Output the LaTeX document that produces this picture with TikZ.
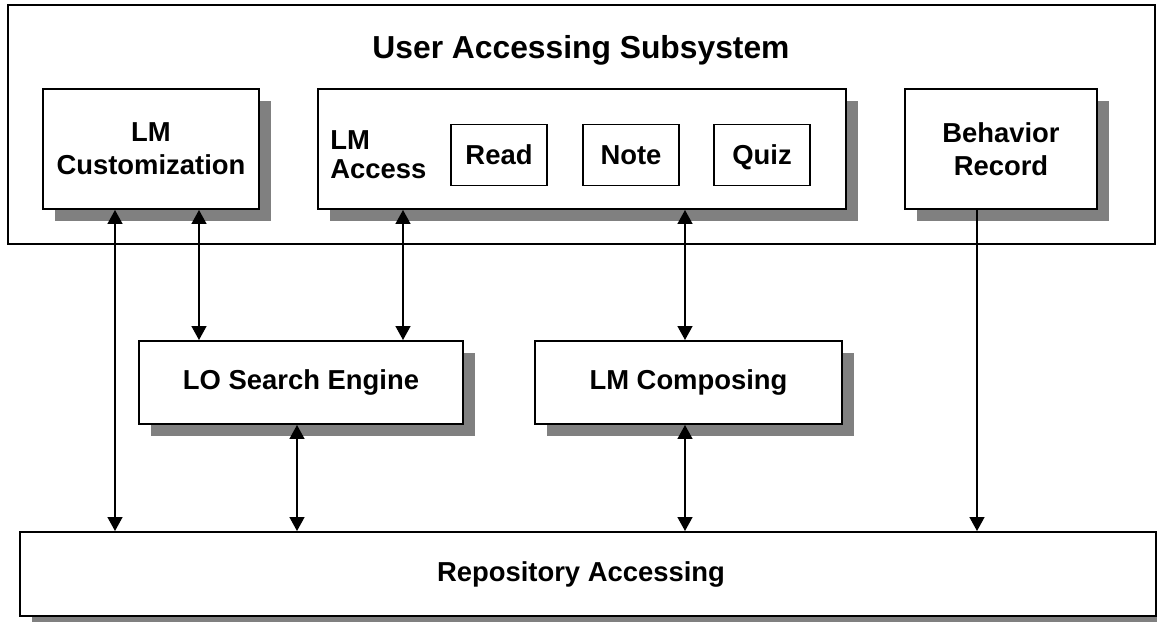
\documentclass[tikz,border=0pt]{standalone}
\usepackage{fontspec}
\setmainfont{Liberation Sans}
\usetikzlibrary{arrows.meta,shadows}

\begin{document}
\begin{tikzpicture}[x=0.02cm, y=-0.02cm,
		box/.style={draw=black, line width=0.4mm, fill=white, inner sep=0pt, align=center,
			font=\bfseries\fontsize{15.6}{18.7}\selectfont},
		shbox/.style={box, drop shadow={shadow xshift=0.24cm, shadow yshift=-0.24cm, fill=black!50, opacity=1}},
		subbox/.style={box, line width=0.3mm, minimum width=1.92cm, minimum height=1.22cm, text height=2.05ex, text depth=0ex},
		link/.style={line width=0.3mm, {Triangle[width=0.3cm, length=0.28cm]}-{Triangle[width=0.3cm, length=0.28cm]}},
		uplink/.style={line width=0.3mm, -{Triangle[width=0.3cm, length=0.28cm]}}]
			%%%%% START %%%%%
			
			\clip (0, 0) rectangle (1157, 622);
			
			\node[box, minimum width=22.94cm, minimum height=4.78cm] (user) at (581.5, 124.5) {};
			\node[font=\bfseries\fontsize{18.1}{21.7}\selectfont] (usertitle) at (581, 50) {User Accessing Subsystem};
			
			\node[shbox, minimum width=4.32cm, minimum height=2.4cm] (custom) at (151, 149) {LM\\Customization};
			\node[shbox, minimum width=10.56cm, minimum height=2.4cm] (access) at (582, 149) {};
			\node[font=\bfseries\fontsize{15.6}{16.5}\selectfont, align=left, anchor=west, inner sep=0pt] (accesslabel) at (330, 155) {LM\\Access};
			\node[subbox] (read) at (499, 155) {Read};
			\node[subbox] (note) at (631, 155) {Note};
			\node[subbox] (quiz) at (762, 155) {Quiz};
			\node[shbox, minimum width=3.84cm, minimum height=2.4cm] (behavior) at (1001, 149) {Behavior\\Record};
			
			\node[shbox, minimum width=6.48cm, minimum height=1.66cm] (search) at (301, 382.5) {LO Search Engine};
			\node[shbox, minimum width=6.14cm, minimum height=1.66cm] (compose) at (688.5, 382.5) {LM Composing};
			
			\node[shbox, minimum width=22.72cm, minimum height=1.68cm] (repo) at (588, 574) {};
			\node[font=\bfseries\fontsize{15.6}{18.7}\selectfont] (repolabel) at (581, 574) {Repository Accessing};
			
			\draw[link] (custom.south -| 115,0) -- (repo.north -| 115,0);
			\draw[link] (custom.south -| 199,0) -- (search.north -| 199,0);
			\draw[link] (access.south -| 403,0) -- (search.north -| 403,0);
			\draw[link] (access.south -| 685,0) -- (compose.north -| 685,0);
			\draw[link] (search.south -| 297,0) -- (repo.north -| 297,0);
			\draw[link] (compose.south -| 685,0) -- (repo.north -| 685,0);
			\draw[uplink] (behavior.south -| 977,0) -- (repo.north -| 977,0);
			
			%%%%% END %%%%%
		\end{tikzpicture}
\end{document}
